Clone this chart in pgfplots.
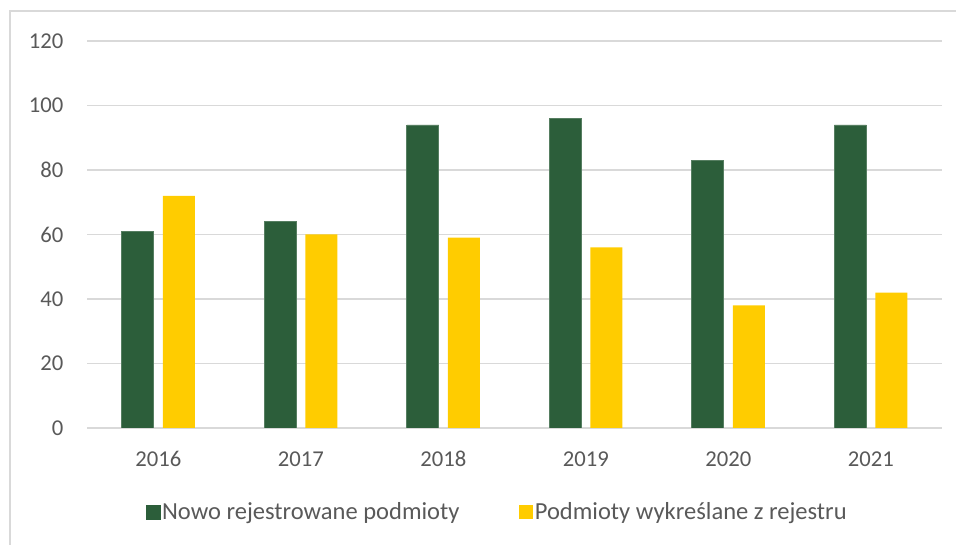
\documentclass[border=0pt]{standalone}
\usepackage{fontspec}
\setmainfont{Carlito}
\usepackage{pgfplots}
\pgfplotsset{compat=1.18}

\definecolor{barGreen}{HTML}{2C5E3A}
\definecolor{barYellow}{HTML}{FFCC00}
\definecolor{gridGray}{HTML}{D9D9D9}
\definecolor{txtGray}{HTML}{595959}

\begin{document}
\begin{tikzpicture}
% 1 px of the reference = 0.75pt
\path[use as bounding box] (0pt,0pt) rectangle (717pt,408.75pt);
\draw[gridGray, line width=1.2pt] (7.5pt,0pt) -- (7.5pt,400.5pt) -- (717pt,400.5pt);
\coordinate (plotSW) at (65.25pt,87.75pt);
\begin{axis}[
  at={(plotSW)}, anchor=south west,
  scale only axis,
  width=641.25pt, height=290.25pt,
  ybar=6.75pt, bar width=24pt,
  xmin=-0.5, xmax=5.5,
  ymin=0, ymax=120,
  xtick=data,
  xticklabels={2016,2017,2018,2019,2020,2021},
  ytick={0,20,40,60,80,100,120},
  ymajorgrids,
  major grid style={gridGray, line width=0.9pt},
  axis line style={draw=none},
  major tick length=0pt,
  tick label style={font=\fontsize{17}{20}\selectfont, text=txtGray},
  yticklabel style={inner sep=0pt, anchor=east, xshift=-17.5pt},
  xticklabel style={inner sep=0pt, anchor=base, yshift=-29.25pt},
  /pgf/number format/assume math mode=true,
  legend style={at={(0.0682,-0.2183)}, anchor=west, draw=none, fill=none,
    font=\fontsize{18.4}{22}\selectfont, text=txtGray,
    inner sep=0pt,
    nodes={inner sep=1.5pt},
    /tikz/every even column/.append style={column sep=43pt}},
  legend columns=2,
  legend cell align=left,
]
\addplot[fill=barGreen, draw=barGreen!80!white, line width=0.4pt,
  legend image code/.code={\fill[barGreen] (0pt,-5.25pt) rectangle (10.5pt,5.25pt);}]
  coordinates {(0,61) (1,64) (2,94) (3,96) (4,83) (5,94)};
\addlegendentry{Nowo rejestrowane podmioty}
\addplot[fill=barYellow, draw=none,
  legend image code/.code={\fill[barYellow] (0pt,-5.25pt) rectangle (10.5pt,5.25pt);}]
  coordinates {(0,72) (1,60) (2,59) (3,56) (4,38) (5,42)};
\addlegendentry{Podmioty wykreślane z rejestru}
\end{axis}
\end{tikzpicture}
\end{document}
